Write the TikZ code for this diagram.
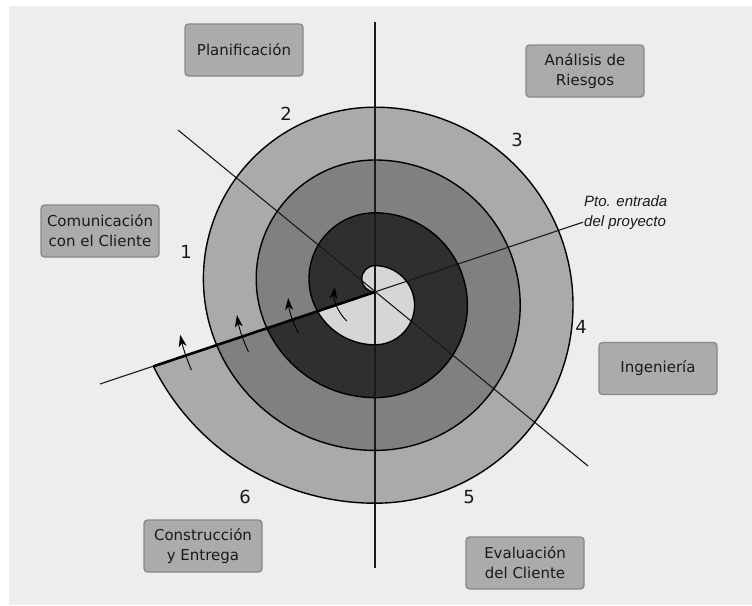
\documentclass[tikz,border=0pt]{standalone}
\usepackage{fontspec}
\setmainfont{DejaVu Sans}
\newfontfamily\libsans{Liberation Sans}
\usetikzlibrary{calc,arrows.meta}
\definecolor{bgcol}{HTML}{EDEDED}
\definecolor{bandA}{HTML}{D6D6D6}
\definecolor{bandB}{HTML}{2F2F2F}
\definecolor{bandC}{HTML}{808080}
\definecolor{bandD}{HTML}{AAAAAA}
\definecolor{boxfill}{HTML}{ABABAB}
\definecolor{boxborder}{HTML}{888888}
\definecolor{inkcol}{HTML}{1A1A1A}
\tikzset{
  phasebox/.style={draw=boxborder, fill=boxfill, rounded corners=3.5pt, line width=1.3pt,
    minimum width=118pt, minimum height=52pt, align=center, inner sep=2pt,
    font=\fontsize{15}{20}\selectfont, text=inkcol},
  numlabel/.style={font=\fontsize{18}{20}\selectfont, text=inkcol, inner sep=0pt},
  thinline/.style={draw=inkcol, line width=1.1pt},
  spiraledge/.style={draw=black, line width=1.4pt},
  cutedge/.style={draw=black, line width=2.6pt},
  turnarrow/.style={draw=black, line width=0.9pt, -{Stealth[length=12pt,width=8pt,inset=3.5pt]}}
}
\begin{document}
\begin{tikzpicture}[x=1pt,y=1pt]
\useasboundingbox (0,0) rectangle (752,-605);
\fill[white] (0,0) rectangle (752,-605);
\fill[bgcol] (9,-6) rectangle (752,-605);

\coordinate (O) at (375,-292);
\coordinate (L) at (375,-278.8);
\coordinate (R) at (375,-305.2);
\coordinate (C) at (375,-255.3);
\coordinate (P4) at ($(C)+(206.62:247.9)$);

% turn 3 (outermost)
\fill[bandD] ($(L)+(202.73:171.6)$) arc[start angle=202.73,end angle=90,radius=171.6]
  arc[start angle=90,end angle=-90,radius=198]
  arc[start angle=270,end angle=206.62,radius=247.9] -- cycle;
% turn 2
\fill[bandC] ($(L)+(204.59:118.8)$) arc[start angle=204.59,end angle=90,radius=118.8]
  arc[start angle=90,end angle=-90,radius=145.2]
  arc[start angle=270,end angle=202.73,radius=171.6] -- cycle;
% turn 1
\fill[bandB] ($(L)+(209.47:66)$) arc[start angle=209.47,end angle=90,radius=66]
  arc[start angle=90,end angle=-90,radius=92.4]
  arc[start angle=270,end angle=204.59,radius=118.8] -- cycle;
% turn 0 (centre)
\fill[bandA] (O) arc[start angle=270,end angle=90,radius=13.2]
  arc[start angle=90,end angle=-90,radius=39.6]
  arc[start angle=270,end angle=209.47,radius=66] -- cycle;

% straight guide lines
\coordinate (vtop) at (375,-22);
\coordinate (vbot) at (375,-568);
\coordinate (eLL) at (100,-384);
\coordinate (eUR) at (583,-222.2);
\coordinate (dUL) at (178,-130);
\coordinate (dLR) at (588,-466);
\draw[thinline] (vtop) -- (vbot);
\draw[thinline] (eLL) -- (eUR);
\draw[thinline] (dUL) -- (dLR);

% spiral outline
\draw[spiraledge] (O) arc[start angle=270,end angle=90,radius=13.2]
  arc[start angle=90,end angle=-90,radius=39.6]
  arc[start angle=270,end angle=90,radius=66]
  arc[start angle=90,end angle=-90,radius=92.4]
  arc[start angle=270,end angle=90,radius=118.8]
  arc[start angle=90,end angle=-90,radius=145.2]
  arc[start angle=270,end angle=90,radius=171.6]
  arc[start angle=90,end angle=-90,radius=198]
  arc[start angle=270,end angle=206.62,radius=247.9];
\draw[cutedge] (O) -- (P4);

% turn arrows
\draw[turnarrow] ($(O)+(203.05:199.5)$) arc[start angle=203.05,end angle=192.4,radius=199.5];
\draw[turnarrow] ($(O)+(205.3:140)$) arc[start angle=205.3,end angle=189.5,radius=140];
\draw[turnarrow] ($(O)+(208:87)$) arc[start angle=208,end angle=184,radius=87];
\draw[turnarrow] ($(O)+(226:40.5)$) arc[start angle=226,end angle=172.7,radius=40.5];

% numbers
\node[numlabel] (n1) at (186,-252) {1};
\node[numlabel] (n2) at (286,-114) {2};
\node[numlabel] (n3) at (517,-140) {3};
\node[numlabel] (n4) at (581,-327) {4};
\node[numlabel] (n5) at (469,-497) {5};
\node[numlabel] (n6) at (245,-497) {6};

% entry label
\node[anchor=west, align=left, inner sep=0pt, font=\libsans\itshape\fontsize{15}{20}\selectfont, text=inkcol]
  (entry) at (584,-213) {Pto. entrada\\del proyecto};

% phase boxes
\node[phasebox] (plan) at (244,-50) {Planificación};
\node[phasebox] (riesgo) at (585,-71) {Análisis de\\Riesgos};
\node[phasebox] (comun) at (100,-231) {Comunicación\\con el Cliente};
\node[phasebox] (ing) at (658,-368.5) {Ingeniería};
\node[phasebox] (constr) at (203,-546) {Construcción\\y Entrega};
\node[phasebox] (eval) at (525,-563) {Evaluación\\del Cliente};
\end{tikzpicture}
\end{document}
